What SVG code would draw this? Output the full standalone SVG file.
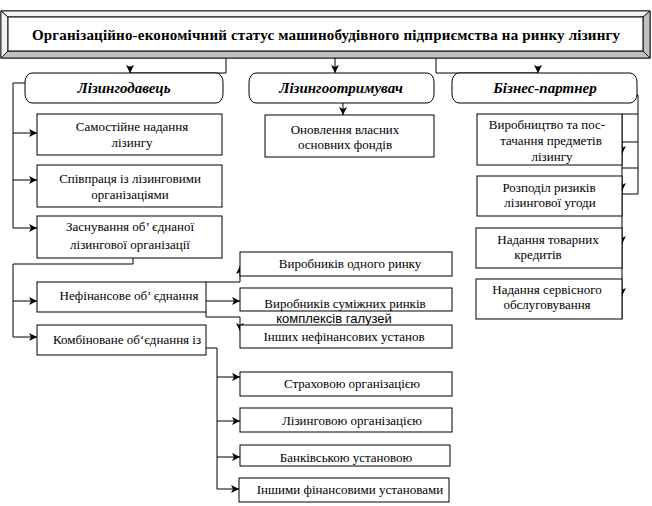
<svg xmlns="http://www.w3.org/2000/svg" width="652" height="506" viewBox="0 0 652 506">
<style>
.box{fill:#fff;stroke:#000;stroke-width:1}
.ov{fill:#fff;stroke:#000;stroke-width:1}
.t{font-family:"Liberation Serif","DejaVu Serif","Times New Roman",serif;font-size:13px;fill:#000;text-anchor:middle}
.ti{font-family:"Liberation Serif","DejaVu Serif","Times New Roman",serif;font-size:15px;font-weight:bold;font-style:italic;fill:#000;text-anchor:middle}
.tt{font-family:"Liberation Serif","DejaVu Serif","Times New Roman",serif;font-size:15px;font-weight:bold;fill:#000;text-anchor:middle}
.ts{font-family:"Liberation Sans",Arial,sans-serif;font-size:13px;fill:#000;text-anchor:middle}
.c{fill:none;stroke:#000;stroke-width:1}
.a{fill:none;stroke:#000;stroke-width:1;marker-end:url(#ah)}
</style>
<defs>
<marker id="ah" markerUnits="userSpaceOnUse" markerWidth="10" markerHeight="9" refX="8" refY="4" orient="auto">
<path d="M0,0 L8,4 L0,8 L2,4 z" fill="#000"/>
</marker>
</defs>
<rect width="652" height="506" fill="#fff"/>

<g id="title">
<rect x="1" y="11" width="649" height="47" fill="#fff" stroke="#000"/>
<polygon points="1,11 650,11 643,17 8,17" fill="#f2f2f2" stroke="#000" stroke-width="0.8"/>
<polygon points="1,11 8,17 8,51 1,58" fill="#f2f2f2" stroke="#000" stroke-width="0.8"/>
<polygon points="1,58 8,51 643,51 650,58" fill="#c0c0c0" stroke="#000" stroke-width="0.8"/>
<polygon points="650,11 643,17 643,51 650,58" fill="#c0c0c0" stroke="#000" stroke-width="0.8"/>
<rect x="8" y="17" width="635" height="34" fill="#fff" stroke="#000"/>
<text class="tt" x="326" y="40" textLength="588" lengthAdjust="spacing">Організаційно-економічний статус машинобудівного підприємства на ринку лізингу</text>
</g>

<g id="connectors">
<path class="c" d="M226,58 V73 H130"/>
<path class="a" d="M130,66 V73"/>
<path class="a" d="M335,58 V73"/>
<path class="c" d="M436,58 V73 H538"/>
<path class="a" d="M538,66 V73"/>
<path class="c" d="M25,83 H13 V228"/>
<path class="a" d="M13,133 H37"/>
<path class="a" d="M13,180 H37"/>
<path class="a" d="M13,228 H37"/>
<path class="a" d="M343,103 V115"/>
<path class="c" d="M636,95 H638 V194 H622"/>
<path class="c" d="M622,114 H638 M622,142 H638 M622,168 H638"/>
<path class="c" d="M622,114 V319"/>
<path class="a" d="M622,145 V154"/>
<path class="a" d="M622,182 V191"/>
<path class="a" d="M622,235 V244"/>
<path class="a" d="M622,287 V296"/>
<path class="c" d="M133,258 V264 H13 V337"/>
<path class="a" d="M13,301 H37"/>
<path class="a" d="M13,337 H37"/>
<path class="a" d="M206,282 H240 V266"/>
<path class="a" d="M206,301 H240"/>
<path class="a" d="M206,312 V317 H240 V331"/>
<path class="c" d="M206,348 H217 V489"/>
<path class="a" d="M217,377 H240"/>
<path class="a" d="M217,421 H240"/>
<path class="a" d="M217,457 H240"/>
<path class="a" d="M217,489 H239"/>
</g>

<g id="n-lizingodavets">
<rect class="ov" x="25" y="73" width="198" height="30" rx="7" ry="9"/>
<text class="ti" x="124" y="93">Лізингодавець</text>
</g>
<g id="n-lizingootrymuvach">
<rect class="ov" x="249" y="73" width="185" height="30" rx="7" ry="9"/>
<text class="ti" x="341" y="93">Лізингоотримувач</text>
</g>
<g id="n-biznes-partner">
<rect class="ov" x="452" y="73" width="185" height="30" rx="7" ry="9"/>
<text class="ti" x="545" y="93">Бізнес-партнер</text>
</g>

<g id="n-samostiine">
<rect class="box" x="37" y="114" width="185" height="41"/>
<text class="t" x="132" y="131">Самостійне  надання</text>
<text class="t" x="132" y="147">лізингу</text>
</g>
<g id="n-spivpratsia">
<rect class="box" x="37" y="165" width="185" height="42"/>
<text class="t" x="130" y="183">Співпраця із лізинговими</text>
<text class="t" x="130" y="199">організаціями</text>
</g>
<g id="n-zasnuvannia">
<rect class="box" x="37" y="216" width="185" height="42"/>
<text class="t" x="130" y="231">Заснування об’ єднаної</text>
<text class="t" x="130" y="249">лізингової організації</text>
</g>

<g id="n-onovlennia">
<rect class="box" x="265" y="115" width="169" height="42"/>
<text class="t" x="345" y="134">Оновлення власних</text>
<text class="t" x="345" y="149">основних  фондів</text>
</g>

<g id="n-vyrobnytstvo">
<rect class="box" x="477" y="114" width="145" height="51"/>
<text class="t" x="547" y="129">Виробництво та пос-</text>
<text class="t" x="551" y="145">тачання предметів</text>
<text class="t" x="552" y="161">лізингу</text>
</g>
<g id="n-rozpodil">
<rect class="box" x="477" y="176" width="145" height="40"/>
<text class="t" x="549" y="192">Розподіл ризиків</text>
<text class="t" x="550" y="207">лізингової угоди</text>
</g>
<g id="n-tovarni">
<rect class="box" x="476" y="228" width="146" height="40"/>
<text class="t" x="548" y="244">Надання товарних</text>
<text class="t" x="538" y="259">кредитів</text>
</g>
<g id="n-servisne">
<rect class="box" x="476" y="279" width="146" height="40"/>
<text class="t" x="547" y="294">Надання сервісного</text>
<text class="t" x="547" y="309">обслуговування</text>
</g>

<g id="n-nefinansove">
<rect class="box" x="37" y="282" width="169" height="30"/>
<text class="t" x="129" y="300">Нефінансове об’ єднання</text>
</g>
<g id="n-kombinovane">
<rect class="box" x="37" y="325" width="169" height="30"/>
<text class="t" x="127" y="344">Комбіноване об‘єднання із</text>
</g>

<g id="n-odnoho-rynku">
<rect class="box" x="240" y="252" width="212" height="24"/>
<text class="t" x="350" y="268">Виробників одного ринку</text>
</g>
<g id="n-sumizhnykh">
<rect class="box" x="240" y="288" width="212" height="23"/>
<text class="t" x="345" y="308">Виробників суміжних  ринків</text>
<text class="ts" x="334" y="323">комплексів галузей</text>
</g>
<g id="n-inshykh-nefin">
<rect class="box" x="240" y="325" width="212" height="23"/>
<text class="t" x="344" y="341">Інших нефінансових установ</text>
</g>

<g id="n-strakhova">
<rect class="box" x="240" y="372" width="212" height="24"/>
<text class="t" x="352" y="388">Страховою організацією</text>
</g>
<g id="n-lizyngova">
<rect class="box" x="240" y="408" width="212" height="24"/>
<text class="t" x="352" y="425">Лізинговою організацією</text>
</g>
<g id="n-bankivska">
<rect class="box" x="240" y="445" width="210" height="21"/>
<text class="t" x="346" y="462">Банківською установою</text>
</g>
<g id="n-inshi-fin">
<rect class="box" x="239" y="478" width="210" height="24"/>
<text class="t" x="350" y="494">Іншими фінансовими установами</text>
</g>
</svg>
